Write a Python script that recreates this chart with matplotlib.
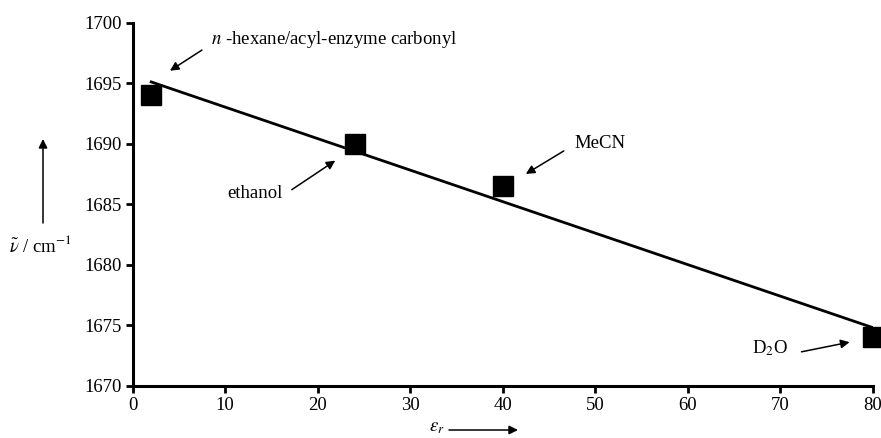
import numpy as np
import matplotlib
matplotlib.use("Agg")
import matplotlib.pyplot as plt

plt.rcParams['font.family'] = ['Liberation Serif', 'DejaVu Serif']
plt.rcParams['mathtext.fontset'] = 'stix'

# data
solvents = ['n-hexane', 'ethanol', 'MeCN', 'D2O']
eps_r = [2, 24, 40, 80]
wavenumber = [1694.0, 1690.0, 1686.5, 1674.0]

xticks = [0, 10, 20, 30, 40, 50, 60, 70, 80]
yticks = [1670, 1675, 1680, 1685, 1690, 1695, 1700]

fig = plt.figure(figsize=(8.81, 4.38), dpi=100)
ax = fig.add_axes([0.1506, 0.1194, 0.84, 0.8288])

# linear fit through the points
k, b = np.polyfit(eps_r, wavenumber, 1)
xf = np.array([min(eps_r), max(eps_r)])
ax.plot(xf, k * xf + b, color='black', lw=2.0, zorder=2)
ax.plot(eps_r, wavenumber, 's', color='black', ms=14.5, zorder=3, clip_on=False)

ax.set_xlim(0, 80)
ax.set_ylim(1670, 1700)
ax.set_xticks(xticks)
ax.set_yticks(yticks)
for s in ['top', 'right']:
    ax.spines[s].set_visible(False)
for s in ['left', 'bottom']:
    ax.spines[s].set_linewidth(2.2)
ax.tick_params(direction='out', length=5, width=2, labelsize=13.5, pad=3)

arrow = dict(arrowstyle='-|>', color='black', lw=1.1, mutation_scale=13, shrinkA=0, shrinkB=0)
fs = 13.5

# labels with arrows (text pos, arrow tail, arrow head)
ax.text(8.46, 1698.57, '$n$ -hexane/acyl-enzyme carbonyl', fontsize=fs, va='center', ha='left')
ax.annotate('', xy=(4.03, 1696.03), xytext=(7.49, 1697.74), arrowprops=arrow)

ax.text(13.2, 1685.9, 'ethanol', fontsize=fs, va='center', ha='center')
ax.annotate('', xy=(21.9, 1688.6), xytext=(17.2, 1686.2), arrowprops=arrow)

ax.text(47.8, 1690.03, 'MeCN', fontsize=fs, va='center', ha='left')
ax.annotate('', xy=(42.5, 1687.5), xytext=(46.6, 1689.4), arrowprops=arrow)

ax.text(67.0, 1673.1, 'D$_2$O', fontsize=fs, va='center', ha='left')
ax.annotate('', xy=(77.5, 1673.6), xytext=(72.3, 1672.8), arrowprops=arrow)

# axis labels with arrows (figure pixels)
fig.text(40 / 881, 1 - 245 / 438, r'$\tilde{\nu}$ / cm$^{-1}$', fontsize=fs, ha='center', va='center')
ax.annotate('', xy=(43, 438 - 139), xytext=(43, 438 - 223), xycoords='figure pixels',
            textcoords='figure pixels', arrowprops=arrow)

fig.text(437 / 881, 1 - 428 / 438, r'$\varepsilon_r$', fontsize=fs, ha='center', va='center')
ax.annotate('', xy=(518, 438 - 430), xytext=(449, 438 - 430), xycoords='figure pixels',
            textcoords='figure pixels', arrowprops=arrow)

fig.savefig('out.png', dpi=100)
